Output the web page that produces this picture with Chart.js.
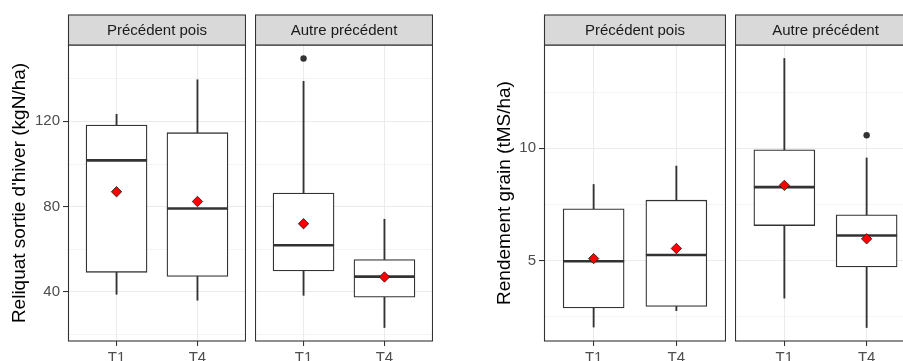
<!DOCTYPE html>
<html>
<head>
<meta charset="utf-8">
<script src="https://cdn.jsdelivr.net/npm/chart.js@4"></script>
<style>
  html, body { margin: 0; padding: 0; background: #fff; }
  #wrap { position: relative; width: 903px; height: 361px; overflow: hidden; }
  #wrap canvas { position: absolute; top: 0; }
</style>
</head>
<body>
<div id="wrap">
  <canvas id="relPois" width="246" height="361" style="left:0px"></canvas>
  <canvas id="relAutre" width="178" height="361" style="left:255px"></canvas>
  <canvas id="rdtPois" width="276" height="361" style="left:450px"></canvas>
  <canvas id="rdtAutre" width="181" height="361" style="left:735px"></canvas>
</div>
<script>
const groups = ['T1', 'T4'];
const facets = ['Précédent pois', 'Autre précédent'];

// order in each array: pois T1, pois T4, autre T1, autre T4
// Reliquat sortie d'hiver (kgN/ha)
const relMin = [38.9, 36.1, 38.4, 23.3];
const relQ1 = [49.2, 47.3, 49.8, 37.5];
const relMedian = [101.7, 79.1, 61.9, 47.2];
const relQ3 = [118.3, 114.7, 86.4, 55.2];
const relMax = [123.3, 139.5, 138.8, 74.1];
const relMean = [87.0, 82.4, 72.0, 47.0];
const relOutliers = [[], [], [149.5], []];
const relMajorTicks = [40, 80, 120];
const relMinorTicks = [20, 60, 100, 140];

// Rendement grain (tMS/ha)
const rdtMin = [2.04, 2.77, 3.33, 2.02];
const rdtQ1 = [2.89, 2.96, 6.56, 4.72];
const rdtMedian = [4.97, 5.25, 8.27, 6.12];
const rdtQ3 = [7.31, 7.69, 9.93, 7.04];
const rdtMax = [8.39, 9.21, 14.0, 9.57];
const rdtMean = [5.09, 5.54, 8.35, 5.97];
const rdtOutliers = [[], [], [], [10.58]];
const rdtMajorTicks = [5, 10];
const rdtMinorTicks = [2.5, 7.5, 12.5];

Chart.defaults.font.family = '"Liberation Sans", Arial, sans-serif';

const INK = '#333333';

// grey strip + panel border, like facet_wrap in theme_bw
const stripPlugin = {
    id: 'strip',
    afterDraw(chart, args, opts) {
        const ctx = chart.ctx;
        const a = chart.chartArea;
        const h = 30;
        ctx.save();
        ctx.strokeStyle = INK;
        ctx.lineWidth = 1.1;
        ctx.strokeRect(a.left + 0.5, a.top, a.right - a.left - 1, a.bottom - a.top);
        ctx.fillStyle = '#d9d9d9';
        ctx.fillRect(a.left + 0.5, a.top - h, a.right - a.left - 1, h);
        ctx.strokeRect(a.left + 0.5, a.top - h, a.right - a.left - 1, h);
        ctx.fillStyle = '#1a1a1a';
        ctx.font = '15px "Liberation Sans", Arial, sans-serif';
        ctx.textAlign = 'center';
        ctx.textBaseline = 'middle';
        ctx.fillText(opts.label, (a.left + a.right) / 2, a.top - h / 2 + 1);
        ctx.restore();
    }
};

function yLimits(mins, maxs, outliers) {
    const all = outliers.flat();
    const lo = Math.min(...mins, ...all);
    const hi = Math.max(...maxs, ...all);
    const pad = (hi - lo) * 0.05;
    return [lo - pad, hi + pad];
}

function boxDatasets(s, f) {
    const idx = [f * 2, f * 2 + 1];
    const pts = arr => idx.map((k, j) => ({ x: j + 1, y: arr[k] }));
    const rng = (a, b) => idx.map((k, j) => ({ x: j + 1, y: [a[k], b[k]] }));
    const outPts = [];
    idx.forEach((k, j) => s.out[k].forEach(v => outPts.push({ x: j + 1, y: v })));
    return [
        { type: 'bar', data: rng(s.min, s.q1), backgroundColor: INK, borderWidth: 0, barThickness: 1.2, order: 5 },
        { type: 'bar', data: rng(s.q3, s.max), backgroundColor: INK, borderWidth: 0, barThickness: 1.2, order: 5 },
        { type: 'bar', data: rng(s.q1, s.q3), backgroundColor: '#ffffff', borderColor: INK, borderWidth: 1.3,
          borderSkipped: false, barThickness: 61, order: 4 },
        { type: 'line', data: pts(s.med), showLine: false, pointStyle: 'line', pointRadius: 30.5,
          pointBorderWidth: 2.6, pointBorderColor: INK, order: 3 },
        { type: 'line', data: outPts, showLine: false, pointStyle: 'circle', pointRadius: 3.2,
          pointBackgroundColor: INK, pointBorderWidth: 0, order: 2 },
        { type: 'line', data: pts(s.mean), showLine: false, pointStyle: 'rectRot', pointRadius: 5.2,
          pointBackgroundColor: '#ff0000', pointBorderColor: '#1a1a1a', pointBorderWidth: 0.8, order: 1 }
    ];
}

function makePanel(id, s, f, cfg) {
    const major = cfg.major;
    const allTicks = cfg.major.concat(cfg.minor).sort((a, b) => a - b);
    const isMajor = c => c.tick && major.includes(c.tick.value);
    new Chart(document.getElementById(id), {
        type: 'bar',
        data: { datasets: boxDatasets(s, f) },
        plugins: [stripPlugin],
        options: {
            responsive: false,
            devicePixelRatio: 1,
            animation: false,
            layout: { autoPadding: false, padding: { top: 45, left: 0, right: 0, bottom: 0 } },
            plugins: {
                legend: { display: false },
                tooltip: { enabled: false },
                strip: { label: facets[f] }
            },
            datasets: { bar: { grouped: false } },
            scales: {
                x: {
                    type: 'linear', min: 0.4, max: 2.6, offset: false,
                    afterBuildTicks: sc => { sc.ticks = groups.map((g, i) => ({ value: i + 1 })); },
                    afterFit: sc => {
                        sc.height = 20;
                        sc.paddingLeft = 0; sc.paddingRight = 0;
                        sc.paddingTop = 0; sc.paddingBottom = 0;
                    },
                    ticks: { callback: v => groups[v - 1], color: '#4d4d4d', font: { size: 15 },
                             padding: 3, autoSkip: false, maxRotation: 0 },
                    grid: { color: '#ebebeb', lineWidth: 1.07, tickColor: INK, tickLength: 5, offset: false },
                    border: { display: false }
                },
                y: {
                    type: 'linear', min: cfg.lim[0], max: cfg.lim[1], beginAtZero: false,
                    afterBuildTicks: sc => { sc.ticks = allTicks.map(v => ({ value: v })); },
                    afterFit: sc => {
                        sc.width = cfg.axisWidth;
                        sc.paddingLeft = 0; sc.paddingRight = 0;
                        sc.paddingTop = 0; sc.paddingBottom = 0;
                    },
                    ticks: { display: cfg.showAxis, callback: v => major.includes(v) ? String(v) : '',
                             color: '#4d4d4d', font: { size: 15 }, padding: 3, autoSkip: false },
                    grid: {
                        color: '#ebebeb',
                        lineWidth: c => isMajor(c) ? 1.07 : 0.55,
                        tickColor: c => isMajor(c) ? INK : 'rgba(0,0,0,0)',
                        tickLength: 5,
                        drawTicks: cfg.showAxis
                    },
                    border: { display: false },
                    title: { display: cfg.showAxis, text: cfg.title, color: '#000000',
                             font: { size: 19 }, padding: { top: cfg.titlePad, bottom: 0 } }
                }
            }
        }
    });
}

const rel = { min: relMin, q1: relQ1, med: relMedian, q3: relQ3, max: relMax, mean: relMean, out: relOutliers };
const rdt = { min: rdtMin, q1: rdtQ1, med: rdtMedian, q3: rdtQ3, max: rdtMax, mean: rdtMean, out: rdtOutliers };
const relLim = yLimits(relMin, relMax, relOutliers);
const rdtLim = yLimits(rdtMin, rdtMax, rdtOutliers);

makePanel('relPois', rel, 0, { major: relMajorTicks, minor: relMinorTicks, lim: relLim, showAxis: true,
    axisWidth: 68, title: "Reliquat sortie d'hiver (kgN/ha)", titlePad: 8.7 });
makePanel('relAutre', rel, 1, { major: relMajorTicks, minor: relMinorTicks, lim: relLim, showAxis: false,
    axisWidth: 0, title: '', titlePad: 0 });
makePanel('rdtPois', rdt, 0, { major: rdtMajorTicks, minor: rdtMinorTicks, lim: rdtLim, showAxis: true,
    axisWidth: 94, title: 'Rendement grain (tMS/ha)', titlePad: 43.7 });
makePanel('rdtAutre', rdt, 1, { major: rdtMajorTicks, minor: rdtMinorTicks, lim: rdtLim, showAxis: false,
    axisWidth: 0, title: '', titlePad: 0 });
</script>
</body>
</html>
